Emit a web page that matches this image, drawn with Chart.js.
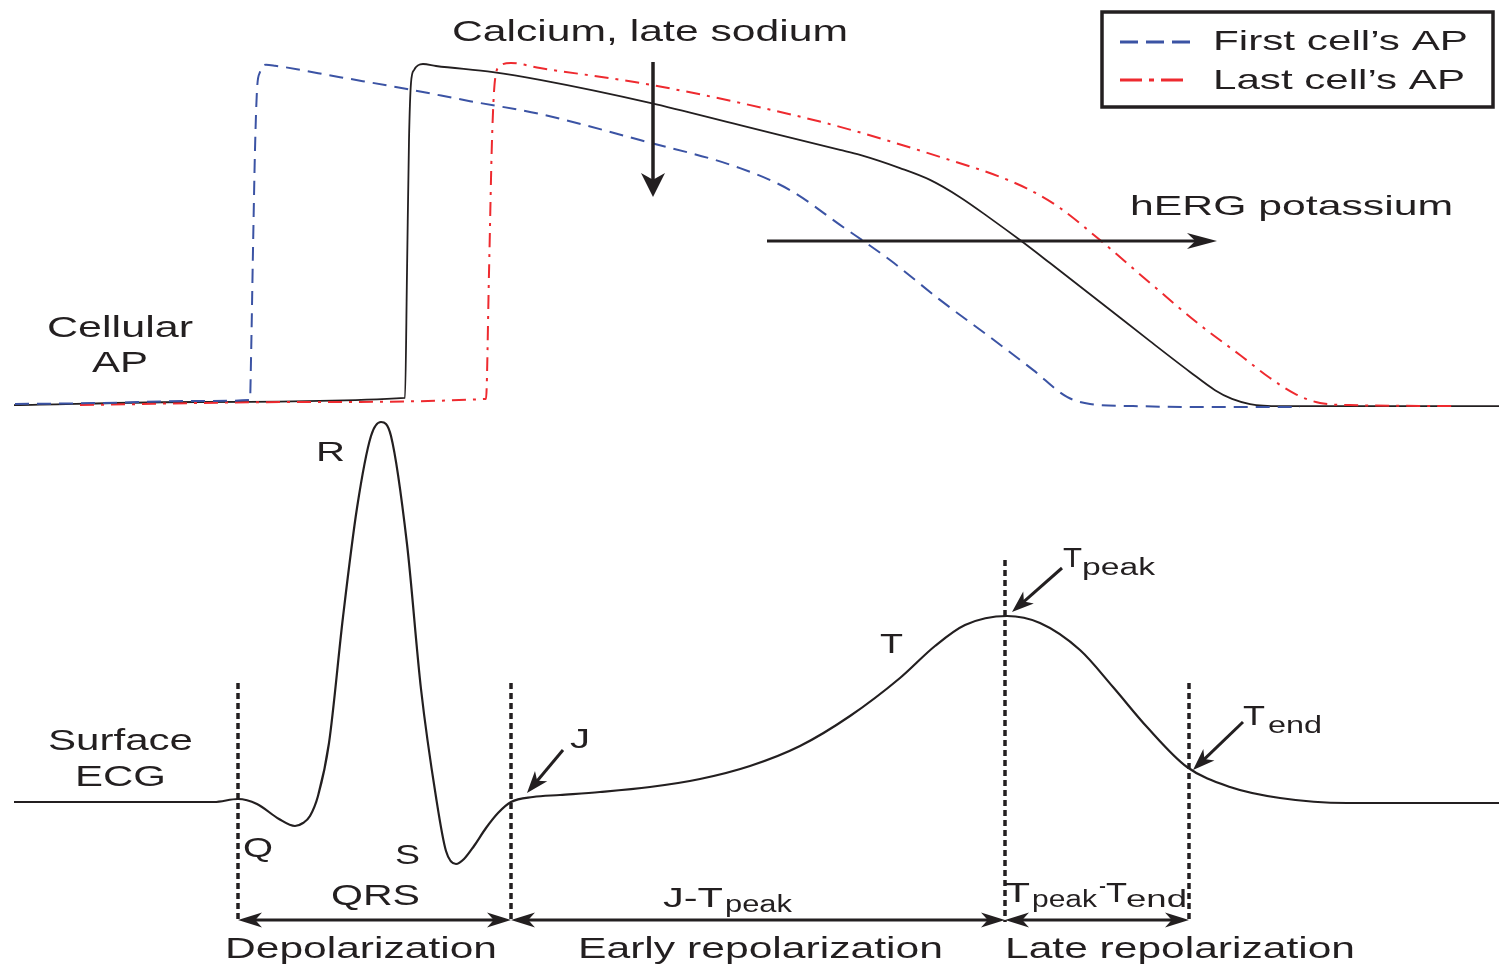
<!DOCTYPE html>
<html><head><meta charset="utf-8">
<script src="https://cdn.jsdelivr.net/npm/chart.js@4.4.1/dist/chart.umd.min.js"></script>
<style>html,body{margin:0;padding:0;background:#fff;overflow:hidden}#wrap{width:1499px;height:967px;position:relative}</style>
</head><body><div id="wrap"><canvas id="c"></canvas></div>
<script>
// Time in ms, action potentials in mV, surface ECG in mV
const firstT = [6, 40, 80, 100, 100.4, 101.2, 102, 102.8, 104, 106.4, 110, 136, 162.8, 188, 216, 256, 296, 316, 336, 356, 376, 396, 413.2, 426.8, 436, 453.2, 480, 520];
const firstV = [-85.3, -85.0, -84.4, -84.1, -72.3, -39.7, -10.1, 7.6, 12.9, 15.1, 14.8, 11.4, 7.9, 4.3, 0.5, -7.2, -15.5, -22.0, -32.3, -42.7, -54.5, -65.5, -75.2, -83.2, -85.3, -85.9, -86.2, -86.2];

const middleT = [5.6, 80, 162, 162.8, 163.6, 164.4, 165.6, 169.2, 174.4, 197.2, 216, 260, 296, 336, 344, 360, 372, 384, 396, 408, 420, 440, 460, 476, 486, 492.8, 500, 512, 599.6];
const middleV = [-85.6, -84.7, -83.5, -46.5, -7.2, 9.7, 13.5, 15.3, 14.7, 12.9, 10.6, 3.8, -2.8, -10.1, -11.6, -15.5, -19.0, -24.1, -30.3, -36.8, -43.6, -55.1, -66.7, -75.8, -81.2, -83.8, -85.3, -85.9, -85.9];

const lastT = [32, 120, 194.4, 195.6, 196.8, 198, 200, 204.4, 216, 256, 296, 336, 376, 400, 412, 424, 440, 460, 480, 496, 508, 518, 528, 540, 582.8];
const lastV = [-85.6, -84.7, -83.8, -46.5, -7.2, 10.6, 14.7, 15.6, 14.1, 9.7, 3.8, -3.3, -12.2, -18.1, -22.0, -27.3, -36.8, -49.5, -61.9, -70.8, -77.6, -82.3, -85.0, -85.6, -85.9];

const ecgT = [5.6, 85.6, 95.2, 102.8, 111.6, 118, 121.2, 124, 127.2, 131.6, 137.2, 142.8, 148.4, 152.4, 156.4, 162.8, 168.4, 174.4, 178.4, 182.4, 185.6, 189.6, 194.4, 199.2, 204.4, 213.2, 224, 240, 260, 280, 300, 320, 340, 360, 374, 386, 402.8, 416, 432, 445.2, 458.8, 474.8, 492, 512, 538.8, 599.6];
const ecgV = [0, 0, 0.012, -0.008, -0.068, -0.096, -0.084, -0.056, 0.024, 0.236, 0.74, 1.176, 1.464, 1.52, 1.464, 1.032, 0.452, 0.02, -0.196, -0.248, -0.228, -0.176, -0.104, -0.044, 0, 0.02, 0.028, 0.04, 0.06, 0.092, 0.144, 0.224, 0.344, 0.496, 0.624, 0.708, 0.744, 0.716, 0.608, 0.46, 0.3, 0.14, 0.06, 0.016, -0.004, -0.004];

const seriesLabels = ["First cell\u2019s AP", "Last cell\u2019s AP"];

// Interval markers on the ECG (time in ms)
const markerT = [95.2, 204.4, 402, 475.6];      // Q onset, J, T peak, T end
const markerTop = [0.476, 0.476, 0.968, 0.476]; // ECG mV where each dotted line starts
const markerBottom = -0.48;
const intervalRow = -0.472;

// Text annotations: [text, leftT, rightT, baseline (ECG-mV units), fontSize]
const texts = [
  ["Calcium, late sodium", 180.8, 339.2, 3.044, 30],
  ["hERG potassium", 452, 581.2, 2.348, 28],
  ["Cellular", 18.8, 77.2, 1.86, 30],
  ["AP", 36.8, 59.2, 1.72, 30],
  ["Surface", 19.2, 77.2, 0.208, 30],
  ["ECG", 30, 66.4, 0.064, 30],
  ["R", 126.4, 138, 1.364, 28],
  ["Q", 97.2, 109.2, -0.22, 28],
  ["S", 158, 168, -0.248, 28],
  ["QRS", 132.4, 168, -0.412, 30],
  ["Depolarization", 90, 198.8, -0.624, 30],
  ["J-T", 265.2, 289.2, -0.42, 28],
  ["peak", 290, 316.8, -0.44, 23],
  ["Early repolarization", 231.2, 377.2, -0.624, 30],
  ["T", 352, 361.2, 0.596, 28],
  ["J", 228, 236, 0.216, 28],
  ["T", 425.2, 432.8, 0.94, 28],
  ["peak", 432.8, 462, 0.908, 23],
  ["T", 497.2, 506, 0.308, 28],
  ["end", 507.2, 528.8, 0.276, 23],
  ["T", 402, 412, -0.4, 28],
  ["peak", 412.8, 438.8, -0.42, 23],
  ["-", 439.6, 442.4, -0.364, 23],
  ["T", 442.4, 450.8, -0.4, 28],
  ["end", 450.4, 474.8, -0.42, 23],
  ["Late repolarization", 402, 542, -0.624, 30]
];

// Arrows: [fromT, fromE, toT, toE, lineWidth, headLen, headHalfWidth]
const arrows = [
  [261.2, 2.96, 261.2, 2.42, 3.5, 24, 12],
  [306.8, 2.244, 486.8, 2.244, 3, 30, 8],
  [225.2, 0.208, 210.8, 0.036, 3, 22, 8],
  [424.8, 0.936, 404.8, 0.76, 3, 22, 8],
  [497.2, 0.32, 477.2, 0.128, 3, 22, 8]
];

// Legend box (ms / ECG-mV units)
const legendBox = {left: 440.8, right: 597.2, top: 3.16, bottom: 2.78};
const legendRows = [3.04, 2.888];
const legendTextBaseline = [3.008, 2.852];
const legendTextRight = [587.2, 586];

const INK = '#231f20';
const FONT = '"Liberation Sans", Arial, Helvetica, sans-serif';

function pts(t, v) { return t.map((x, i) => ({x: x, y: v[i]})); }

function head(ctx, tx, ty, fx, fy, L, W) {
  const dx = tx - fx, dy = ty - fy, len = Math.hypot(dx, dy);
  const ux = dx / len, uy = dy / len, px = -uy, py = ux;
  ctx.beginPath();
  ctx.moveTo(tx, ty);
  ctx.lineTo(tx - ux * L + px * W, ty - uy * L + py * W);
  ctx.lineTo(tx - ux * L * 0.72, ty - uy * L * 0.72);
  ctx.lineTo(tx - ux * L - px * W, ty - uy * L - py * W);
  ctx.closePath();
  ctx.fill();
}
function arrow(ctx, fx, fy, tx, ty, lw, L, W) {
  const dx = tx - fx, dy = ty - fy, len = Math.hypot(dx, dy);
  const ux = dx / len, uy = dy / len;
  ctx.lineWidth = lw;
  ctx.beginPath(); ctx.moveTo(fx, fy); ctx.lineTo(tx - ux * L * 0.7, ty - uy * L * 0.7); ctx.stroke();
  head(ctx, tx, ty, fx, fy, L, W);
}
function fitText(ctx, s, x0, x1, base, size) {
  ctx.font = size + 'px ' + FONT;
  const w = ctx.measureText(s).width;
  ctx.save();
  ctx.translate(x0, base);
  ctx.scale((x1 - x0) / w, 1);
  ctx.fillText(s, 0, 0);
  ctx.restore();
}

const annotate = {
  id: 'annotate',
  afterDraw(chart) {
    const ctx = chart.ctx, xs = chart.scales.x, ye = chart.scales.yECG;
    const X = v => xs.getPixelForValue(v), Y = v => ye.getPixelForValue(v);
    ctx.save();
    ctx.fillStyle = INK; ctx.strokeStyle = INK; ctx.textBaseline = 'alphabetic'; ctx.textAlign = 'left';
    ctx.lineWidth = 3.5; ctx.setLineDash([6, 4]);
    markerT.forEach((t, i) => {
      ctx.beginPath(); ctx.moveTo(X(t), Y(markerTop[i])); ctx.lineTo(X(t), Y(markerBottom)); ctx.stroke();
    });
    ctx.setLineDash([]);
    for (let i = 0; i < markerT.length - 1; i++) {
      const a = X(markerT[i]), b = X(markerT[i + 1]), y = Y(intervalRow);
      ctx.lineWidth = 3;
      ctx.beginPath(); ctx.moveTo(a + 16, y); ctx.lineTo(b - 16, y); ctx.stroke();
      head(ctx, a, y, b, y, 24, 7.5);
      head(ctx, b, y, a, y, 24, 7.5);
    }
    arrows.forEach(r => arrow(ctx, X(r[0]), Y(r[1]), X(r[2]), Y(r[3]), r[4], r[5], r[6]));
    texts.forEach(r => fitText(ctx, r[0], X(r[1]), X(r[2]), Y(r[3]), r[4]));
    const ds = chart.data.datasets;
    ctx.lineWidth = 3.5;
    ctx.strokeRect(X(legendBox.left), Y(legendBox.top), X(legendBox.right) - X(legendBox.left), Y(legendBox.bottom) - Y(legendBox.top));
    [0, 1].forEach(i => {
      const d = ds[i];
      ctx.save();
      ctx.strokeStyle = d.borderColor; ctx.lineWidth = 3; ctx.setLineDash(i === 0 ? [18, 8] : [22, 7, 5, 7]);
      ctx.beginPath(); ctx.moveTo(X(448), Y(legendRows[i])); ctx.lineTo(X(i === 0 ? 477.2 : 476), Y(legendRows[i])); ctx.stroke();
      ctx.restore();
      fitText(ctx, d.label, X(485.2), X(legendTextRight[i]), Y(legendTextBaseline[i]), 28);
    });
    ctx.restore();
  }
};

new Chart(document.getElementById('c'), {
  type: 'line',
  data: {
    datasets: [
      {label: seriesLabels[0], data: pts(firstT, firstV), yAxisID: 'yAP', borderColor: '#3b53a4', borderWidth: 2, borderDash: [14, 8], pointRadius: 0, cubicInterpolationMode: 'monotone', fill: false},
      {label: seriesLabels[1], data: pts(lastT, lastV), yAxisID: 'yAP', borderColor: '#ee2a2f', borderWidth: 2, borderDash: [14, 7, 3, 7], pointRadius: 0, cubicInterpolationMode: 'monotone', fill: false},
      {label: 'Middle cell AP', data: pts(middleT, middleV), yAxisID: 'yAP', borderColor: INK, borderWidth: 1.8, pointRadius: 0, cubicInterpolationMode: 'monotone', fill: false},
      {label: 'Surface ECG', data: pts(ecgT, ecgV), yAxisID: 'yECG', borderColor: INK, borderWidth: 2.2, pointRadius: 0, cubicInterpolationMode: 'monotone', fill: false}
    ]
  },
  options: {
    responsive: true, maintainAspectRatio: false, animation: false,
    layout: {padding: 0},
    plugins: {legend: {display: false}, tooltip: {enabled: false}},
    scales: {
      x: {type: 'linear', min: 0, max: 599.6, display: false},
      yAP: {type: 'linear', min: -251.86, max: 34.23, display: false},
      yECG: {type: 'linear', min: -0.66, max: 3.208, display: false}
    }
  },
  plugins: [annotate]
});
</script></body></html>
